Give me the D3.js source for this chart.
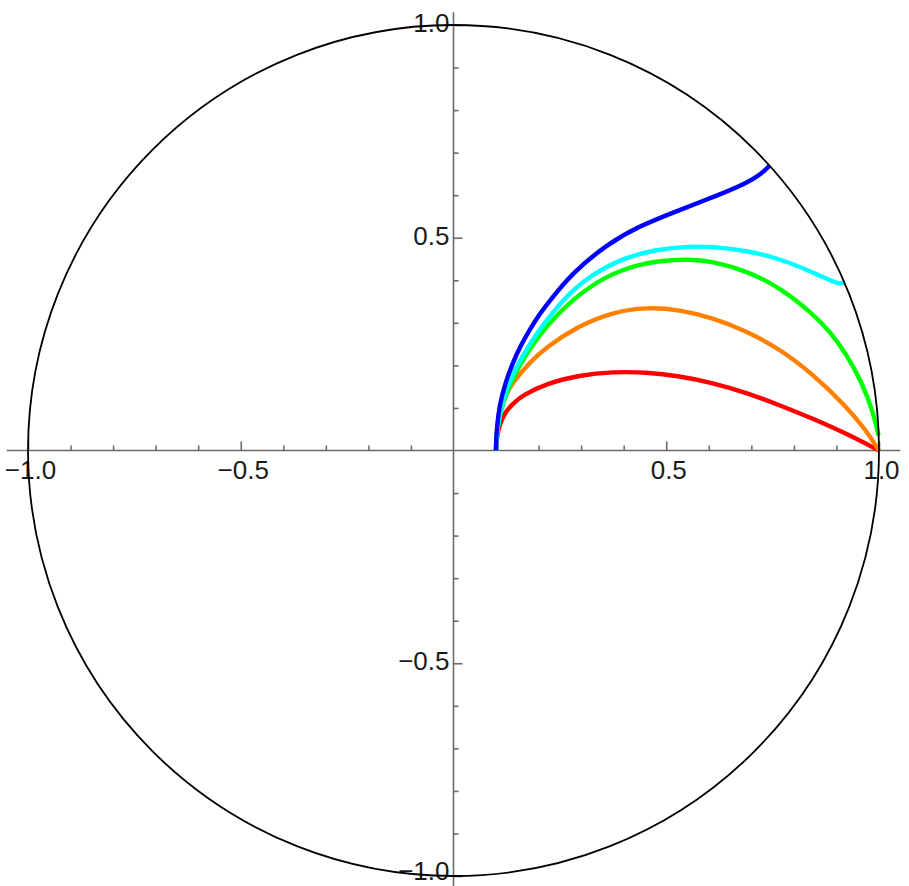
<!DOCTYPE html>
<html><head><meta charset="utf-8">
<script src="https://cdn.jsdelivr.net/npm/d3@7"></script>
<style>
html,body{margin:0;padding:0;background:#fff;}
svg{display:block;}
text{font-family:"Liberation Sans",Arial,sans-serif;}
</style></head>
<body>
<svg id="chart" width="909" height="886"></svg>
<script>
// ---- data ----
const majorTicks = [-1, -0.5, 0.5, 1];
const majorTickLabels = ["\u22121.0", "\u22120.5", "0.5", "1.0"];
const minorTicks = [-0.9,-0.8,-0.7,-0.6,-0.4,-0.3,-0.2,-0.1,0.1,0.2,0.3,0.4,0.6,0.7,0.8,0.9];

const redPts = [[0.1,0],[0.1,0.012],[0.102,0.03],[0.108,0.060],[0.120,0.088],[0.139,0.110],[0.163,0.130],[0.218,0.157],[0.296,0.177],[0.374,0.185],[0.453,0.184],[0.531,0.175],[0.609,0.159],[0.688,0.136],[0.766,0.107],[0.844,0.075],[0.923,0.040],[1,0]];
const orangePts = [[0.1,0],[0.1,0.015],[0.102,0.045],[0.108,0.090],[0.120,0.126],[0.139,0.160],[0.179,0.207],[0.218,0.243],[0.296,0.294],[0.374,0.325],[0.453,0.337],[0.531,0.331],[0.609,0.312],[0.688,0.281],[0.766,0.239],[0.844,0.180],[0.923,0.104],[0.970,0.047],[1,0]];
const greenPts = [[0.1,0],[0.1,0.018],[0.103,0.048],[0.111,0.094],[0.130,0.150],[0.155,0.200],[0.190,0.256],[0.242,0.320],[0.320,0.388],[0.397,0.427],[0.477,0.446],[0.555,0.450],[0.609,0.444],[0.689,0.422],[0.766,0.384],[0.844,0.322],[0.884,0.280],[0.924,0.226],[0.961,0.157],[0.985,0.094],[0.999,0.035]];
const cyanPts = [[0.1,0],[0.1,0.018],[0.103,0.050],[0.111,0.100],[0.130,0.160],[0.155,0.210],[0.190,0.268],[0.233,0.325],[0.273,0.370],[0.320,0.410],[0.397,0.452],[0.477,0.473],[0.555,0.480],[0.609,0.479],[0.689,0.470],[0.766,0.451],[0.844,0.419],[0.884,0.400],[0.907,0.391],[0.921,0.395]];
const bluePts = [[0.1,0],[0.1,0.018],[0.102,0.055],[0.108,0.106],[0.122,0.160],[0.139,0.205],[0.157,0.245],[0.179,0.284],[0.202,0.320],[0.226,0.352],[0.280,0.418],[0.360,0.484],[0.437,0.528],[0.531,0.565],[0.609,0.595],[0.689,0.628],[0.726,0.652],[0.743,0.670]];
const seriesData = [redPts, orangePts, greenPts, cyanPts, bluePts];
const seriesColors = ["#ff0000", "#ff8000", "#00ff00", "#00ffff", "#0000ff"];

// ---- chart ----
const svg = d3.select("#chart");
const x = d3.scaleLinear().domain([-1, 1]).range([28, 879]);
const y = d3.scaleLinear().domain([-1, 1]).range([876, 25]);
const axisColor = "#6b6b6b";

// axis lines
svg.append("line").attr("x1", x(-1.05)).attr("x2", x(1.05)).attr("y1", y(0)).attr("y2", y(0))
  .attr("stroke", axisColor).attr("stroke-width", 1.6);
svg.append("line").attr("x1", x(0)).attr("x2", x(0)).attr("y1", y(1.03)).attr("y2", y(-1.03))
  .attr("stroke", axisColor).attr("stroke-width", 1.6);

const xMinor = d3.axisBottom(x).tickValues(minorTicks).tickSize(-5).tickSizeOuter(0).tickFormat("");
const gxm = svg.append("g").attr("transform", `translate(0,${y(0)})`).call(xMinor);
const xMajor = d3.axisBottom(x).tickValues(majorTicks).tickSize(-9).tickSizeOuter(0).tickPadding(10)
  .tickFormat((d, i) => majorTickLabels[i]);
const gxM = svg.append("g").attr("transform", `translate(0,${y(0)})`).call(xMajor);
const yMinor = d3.axisLeft(y).tickValues(minorTicks).tickSize(-5).tickSizeOuter(0).tickFormat("");
const gym = svg.append("g").attr("transform", `translate(${x(0)},0)`).call(yMinor);
const yMajor = d3.axisLeft(y).tickValues(majorTicks).tickSize(-9).tickSizeOuter(0).tickPadding(4)
  .tickFormat((d, i) => majorTickLabels[i]);
const gyM = svg.append("g").attr("transform", `translate(${x(0)},0)`).call(yMajor);

[gxm, gxM, gym, gyM].forEach(g => {
  g.select(".domain").remove();
  g.selectAll(".tick line").attr("stroke", axisColor).attr("stroke-width", 1.6);
  g.selectAll(".tick text").attr("fill", "#1a1a1a").attr("font-size", 26)
    .attr("font-family", "'Liberation Sans', Arial, sans-serif");
});
gxM.selectAll(".tick text").attr("dx", 2);
gyM.selectAll(".tick text").attr("dy", d => d === -1 ? "0.14em" : "0.24em");

// curves
const line = d3.line().x(d => x(d[0])).y(d => y(d[1])).curve(d3.curveBasis);
svg.append("g").selectAll("path").data(seriesData).join("path")
  .attr("d", d => line(d))
  .attr("fill", "none")
  .attr("stroke", (d, i) => seriesColors[i])
  .attr("stroke-width", 4.4)
  .attr("stroke-linecap", "butt")
  .attr("stroke-linejoin", "round");

// unit circle
svg.append("circle").attr("cx", x(0)).attr("cy", y(0)).attr("r", x(1) - x(0))
  .attr("fill", "none").attr("stroke", "#000").attr("stroke-width", 1.8);
</script>
</body></html>
